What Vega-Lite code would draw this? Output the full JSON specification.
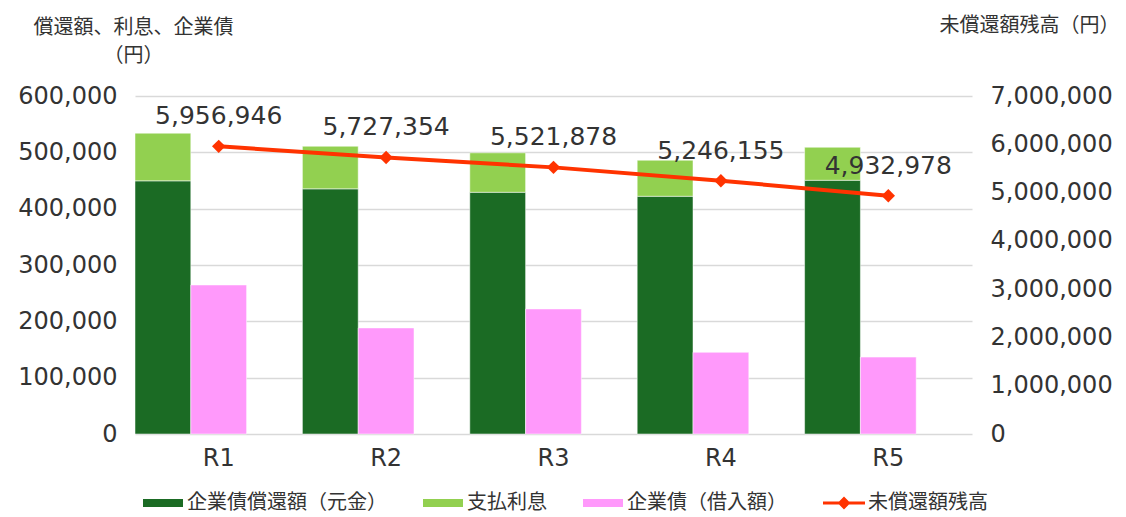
{
  "$schema": "https://vega.github.io/schema/vega-lite/v6.json",
  "autosize": {"type": "none"},
  "width": 837,
  "height": 338,
  "padding": {"left": 135, "top": 96, "right": 154, "bottom": 83},
  "background": "white",
  "config": {
    "view": {"stroke": null},
    "axis": {"labelFont": "DejaVu Sans", "labelColor": "#333333", "titleFont": "Noto Sans CJK JP", "titleColor": "#333333", "titleFontWeight": "normal"}
  },
  "datasets": {
    "bars": [
      {"year": "R1", "series": "企業債償還額（元金）", "slot": "a", "value": 449400},
      {"year": "R1", "series": "支払利息", "slot": "a", "value": 84600},
      {"year": "R1", "series": "企業債（借入額）", "slot": "b", "value": 264500},
      {"year": "R2", "series": "企業債償還額（元金）", "slot": "a", "value": 435200},
      {"year": "R2", "series": "支払利息", "slot": "a", "value": 75600},
      {"year": "R2", "series": "企業債（借入額）", "slot": "b", "value": 188300},
      {"year": "R3", "series": "企業債償還額（元金）", "slot": "a", "value": 429100},
      {"year": "R3", "series": "支払利息", "slot": "a", "value": 70000},
      {"year": "R3", "series": "企業債（借入額）", "slot": "b", "value": 222000},
      {"year": "R4", "series": "企業債償還額（元金）", "slot": "a", "value": 422000},
      {"year": "R4", "series": "支払利息", "slot": "a", "value": 64000},
      {"year": "R4", "series": "企業債（借入額）", "slot": "b", "value": 145000},
      {"year": "R5", "series": "企業債償還額（元金）", "slot": "a", "value": 450400},
      {"year": "R5", "series": "支払利息", "slot": "a", "value": 58600},
      {"year": "R5", "series": "企業債（借入額）", "slot": "b", "value": 136500}
    ],
    "line": [
      {"year": "R1", "balance": 5956946},
      {"year": "R2", "balance": 5727354},
      {"year": "R3", "balance": 5521878},
      {"year": "R4", "balance": 5246155},
      {"year": "R5", "balance": 4932978}
    ]
  },
  "encoding": {
    "x": {
      "field": "year", "type": "nominal",
      "scale": {"paddingInner": 0, "paddingOuter": 0},
      "axis": {"title": null, "labelAngle": 0, "labelFontSize": 24, "labelPadding": 12, "ticks": false, "domain": false, "grid": false}
    }
  },
  "layer": [
    {
      "data": {"name": "bars"},
      "transform": [
        {"stack": "value", "groupby": ["year", "slot"], "sort": [{"field": "series", "order": "ascending"}], "as": ["v0", "v1"]}
      ],
      "mark": {"type": "bar", "stroke": "white", "strokeWidth": 0.5},
      "encoding": {
        "xOffset": {"field": "slot", "type": "nominal", "scale": {"domain": ["a", "b", "c"], "paddingInner": 0, "paddingOuter": 0}},
        "y": {
          "field": "v1", "type": "quantitative",
          "scale": {"domain": [0, 600000], "nice": false},
          "axis": {
            "values": [0, 100000, 200000, 300000, 400000, 500000, 600000],
            "format": ",d",
            "labelFontSize": 24, "labelPadding": 18, "ticks": false, "domain": false,
            "grid": true, "gridColor": "#d9d9d9", "gridWidth": 1.5,
            "title": ["償還額、利息、企業債", "（円）"],
            "titleFontSize": 20, "titleAngle": 0, "titleAlign": "center", "titleBaseline": "middle",
            "titleLineHeight": 28, "titleX": -2, "titleY": -69
          }
        },
        "y2": {"field": "v0"},
        "color": {
          "field": "series", "type": "nominal",
          "scale": {
            "domain": ["企業債償還額（元金）", "支払利息", "企業債（借入額）", "未償還額残高"],
            "range": ["#1b6b24", "#92d050", "#ff99fb", "#ff3300"]
          },
          "legend": {
            "title": null, "orient": "none", "direction": "horizontal", "columns": 4,
            "legendX": 8, "legendY": 387,
            "labelFont": "Noto Sans CJK JP", "labelFontSize": 20, "labelColor": "#333333",
            "symbolSize": 1600, "labelOffset": 4, "columnPadding": 36, "labelLimit": 400,
            "symbolStrokeWidth": 0,
            "symbolType": {"expr": "datum.value === '未償還額残高' ? 'M-1.05,-0.08L1.05,-0.08L1.05,0.08L-1.05,0.08Z M0,-0.32L0.32,0L0,0.32L-0.32,0Z' : 'M-1,-0.2L1,-0.2L1,0.2L-1,0.2Z'"}
          }
        }
      }
    },
    {
      "data": {"name": "line"},
      "encoding": {
        "y": {
          "field": "balance", "type": "quantitative",
          "scale": {"domain": [0, 7000000], "nice": false},
          "axis": {
            "orient": "right",
            "values": [0, 1000000, 2000000, 3000000, 4000000, 5000000, 6000000, 7000000],
            "format": ",d",
            "labelFontSize": 24, "labelPadding": 18, "ticks": false, "domain": false, "grid": false,
            "title": "未償還額残高（円）",
            "titleFontSize": 20, "titleAngle": 0, "titleAlign": "center", "titleBaseline": "middle",
            "titleX": 57, "titleY": -71
          }
        }
      },
      "layer": [
        {"mark": {"type": "line", "color": "#ff3300", "strokeWidth": 4}, "encoding": {}},
        {"mark": {"type": "point", "shape": "diamond", "filled": true, "color": "#ff3300", "size": 180, "opacity": 1}, "encoding": {}},
        {
          "mark": {"type": "text", "font": "DejaVu Sans", "fontSize": 25, "color": "#333333", "baseline": "middle", "dy": -30},
          "encoding": {"text": {"field": "balance", "type": "quantitative", "format": ",d"}}
        }
      ]
    }
  ],
  "resolve": {"scale": {"y": "independent"}}
}
